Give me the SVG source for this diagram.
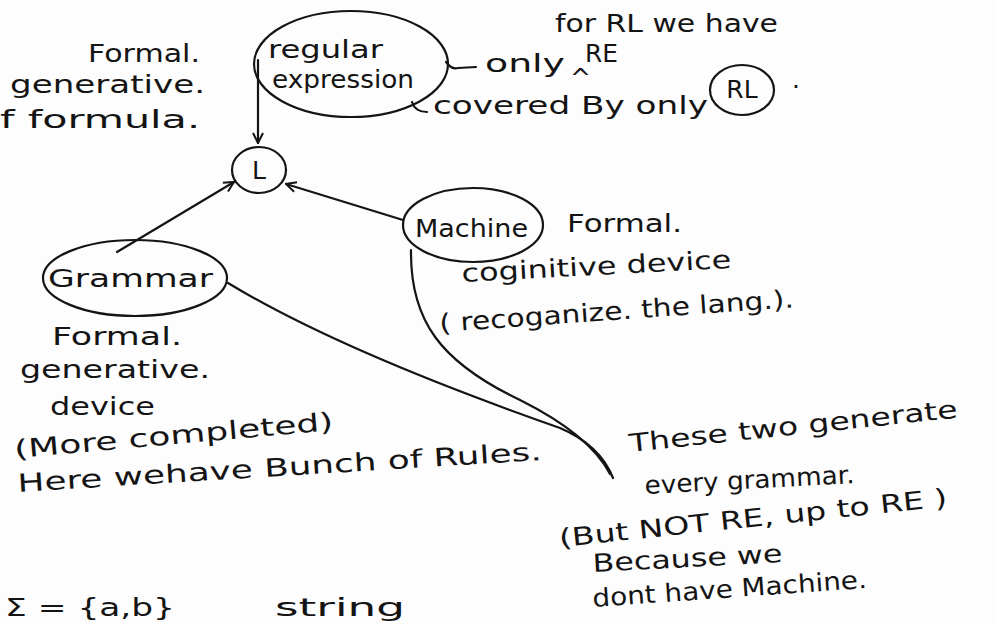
<svg xmlns="http://www.w3.org/2000/svg" width="997" height="625" viewBox="0 0 997 625">
<style>
.t{font-family:"DejaVu Sans","Liberation Sans",sans-serif;font-size:25px;fill:#141414}
.s{fill:none;stroke:#141414;stroke-width:2.2;stroke-linecap:round;stroke-linejoin:round}
</style>
<defs>
<marker id="ah" viewBox="0 0 12 12" refX="11" refY="6" markerWidth="12" markerHeight="12" markerUnits="userSpaceOnUse" orient="auto">
<path d="M1,1 L11,6 L1,11" fill="none" stroke="#141414" stroke-width="2"/>
</marker>
</defs>
<rect width="997" height="625" fill="#fdfdfd"/>

<g id="left-notes">
<text class="t" x="88" y="62" textLength="112" lengthAdjust="spacingAndGlyphs">Formal.</text>
<text class="t" x="10" y="93" textLength="195" lengthAdjust="spacingAndGlyphs">generative.</text>
<text class="t" x="0" y="128" textLength="200" lengthAdjust="spacingAndGlyphs">f formula.</text>
</g>

<g id="node-re">
<ellipse class="s" cx="351" cy="64" rx="97" ry="53"/>
<text class="t" x="268" y="58" textLength="115" lengthAdjust="spacingAndGlyphs">regular</text>
<text class="t" x="272" y="88" textLength="142" lengthAdjust="spacingAndGlyphs">expression</text>
</g>

<g id="re-notes">
<text class="t" x="555" y="32" textLength="223" lengthAdjust="spacingAndGlyphs">for RL we have</text>
<text class="t" x="485" y="72" textLength="80" lengthAdjust="spacingAndGlyphs">only</text>
<text class="t" x="585" y="62" font-size="20" textLength="33" lengthAdjust="spacingAndGlyphs">RE</text>
<text class="t" x="570" y="86" font-size="18">^</text>
<text class="t" x="433" y="114" textLength="275" lengthAdjust="spacingAndGlyphs">covered By only</text>
</g>

<g id="node-rl">
<ellipse class="s" cx="742" cy="90" rx="32" ry="25"/>
<text class="t" x="742" y="98" text-anchor="middle" font-size="23">RL</text>
<text class="t" x="792" y="88">.</text>
</g>

<g id="node-l">
<ellipse class="s" cx="259" cy="170" rx="27" ry="23"/>
<text class="t" x="259" y="179" text-anchor="middle" font-size="22">L</text>
</g>

<g id="node-grammar">
<ellipse class="s" cx="135" cy="278" rx="92" ry="38"/>
<text class="t" x="48" y="287" textLength="165" lengthAdjust="spacingAndGlyphs">Grammar</text>
</g>

<g id="grammar-notes">
<text class="t" x="52" y="345" textLength="130" lengthAdjust="spacingAndGlyphs">Formal.</text>
<text class="t" x="20" y="378" textLength="190" lengthAdjust="spacingAndGlyphs">generative.</text>
<text class="t" x="50" y="415" textLength="105" lengthAdjust="spacingAndGlyphs">device</text>
<text class="t" x="15" y="458" textLength="320" lengthAdjust="spacingAndGlyphs" transform="rotate(-5 15 458)">(More completed)</text>
<text class="t" x="18" y="492" textLength="525" lengthAdjust="spacingAndGlyphs" transform="rotate(-3.5 18 492)">Here wehave  Bunch of Rules.</text>
</g>

<g id="node-machine">
<ellipse class="s" cx="473" cy="225" rx="70" ry="37"/>
<text class="t" x="415" y="237" textLength="113" lengthAdjust="spacingAndGlyphs">Machine</text>
</g>

<g id="machine-notes">
<text class="t" x="567" y="232" textLength="115" lengthAdjust="spacingAndGlyphs">Formal.</text>
<text class="t" x="462" y="282" textLength="270" lengthAdjust="spacingAndGlyphs" transform="rotate(-3 462 282)">coginitive device</text>
<text class="t" x="440" y="332" textLength="355" lengthAdjust="spacingAndGlyphs" transform="rotate(-4 440 332)">( recoganize. the lang.).</text>
</g>

<g id="bottom-notes">
<text class="t" x="630" y="452" textLength="330" lengthAdjust="spacingAndGlyphs" transform="rotate(-6 630 452)">These two generate</text>
<text class="t" x="645" y="494" font-size="27" textLength="210" lengthAdjust="spacingAndGlyphs" transform="rotate(-3 645 494)">every grammar.</text>
<text class="t" x="560" y="547" textLength="390" lengthAdjust="spacingAndGlyphs" transform="rotate(-6 560 547)">(But NOT RE, up to RE )</text>
<text class="t" x="593" y="572" textLength="190" lengthAdjust="spacingAndGlyphs" transform="rotate(-3 593 572)">Because we</text>
<text class="t" x="593" y="607" textLength="275" lengthAdjust="spacingAndGlyphs" transform="rotate(-4 593 607)">dont have Machine.</text>
<text class="t" x="5" y="616" font-size="15" textLength="170" lengthAdjust="spacingAndGlyphs">Σ = {a,b}</text>
<text class="t" x="275" y="616" font-size="15" textLength="130" lengthAdjust="spacingAndGlyphs">string</text>
</g>

<g id="connectors">
<path class="s" d="M258,60 L258,143" marker-end="url(#ah)"/>
<path class="s" d="M117,252 L234,182" marker-end="url(#ah)"/>
<path class="s" d="M403,220 L286,184" marker-end="url(#ah)"/>
<path class="s" d="M228,283 C330,345 480,400 560,428 Q600,445 613,478"/>
<path class="s" d="M411,250 C410,320 440,362 520,400 Q590,435 610,474"/>
<path class="s" d="M446,62 Q452,70 458,68 L476,67"/>
<path class="s" d="M412,102 Q415,112 427,112"/>
</g>
</svg>
